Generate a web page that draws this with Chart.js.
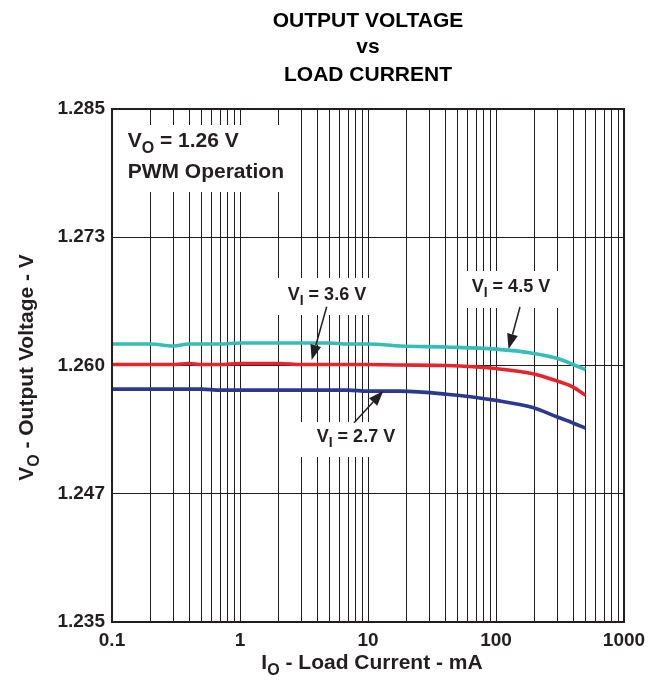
<!DOCTYPE html>
<html>
<head>
<meta charset="utf-8">
<script src="https://cdn.jsdelivr.net/npm/chart.js@4.4.1/dist/chart.umd.min.js"></script>
<style>
html,body{margin:0;padding:0;background:#fff;}
canvas{display:block;}
</style>
</head>
<body>
<canvas id="c" width="667" height="683"></canvas>
<script>
// ---- data ----
const currentMA = [0.1, 0.2, 0.3, 0.4, 0.5, 0.7, 1, 2, 3, 5, 7, 10, 17.8, 41, 100, 194, 298, 400, 500];
const vi45 = [1.2621, 1.2621, 1.2619, 1.2621, 1.2621, 1.2621, 1.2622, 1.2622, 1.2622, 1.2622, 1.2621, 1.2621, 1.2619, 1.2618, 1.2616, 1.2612, 1.2607, 1.2601, 1.2596];
const vi36 = [1.2601, 1.2601, 1.2601, 1.2602, 1.2601, 1.2601, 1.2602, 1.2602, 1.2601, 1.2601, 1.2601, 1.2601, 1.26005, 1.2600, 1.2597, 1.2592, 1.2585, 1.2579, 1.2571];
const vi27 = [1.2577, 1.2577, 1.2577, 1.2577, 1.2577, 1.2576, 1.2576, 1.2576, 1.2576, 1.2576, 1.2576, 1.2575, 1.2575, 1.2572, 1.2566, 1.2559, 1.2550, 1.2544, 1.2539];

const xTickValues = [0.1,0.2,0.3,0.4,0.5,0.6,0.7,0.8,0.9,1,2,3,4,5,6,7,8,9,10,20,30,40,50,60,70,80,90,100,200,300,400,500,600,700,800,900,1000];
const xMajorValues = [0.1, 1, 10, 100, 1000];
const xMajorLabels = ['0.1', '1', '10', '100', '1000'];
const yTickValues = [1.235, 1.2475, 1.26, 1.2725, 1.285];
const yTickLabels = ['1.235', '1.247', '1.260', '1.273', '1.285'];

const FONT = '"Liberation Sans", Arial, Helvetica, sans-serif';

// annotation placement (in data units)
const notes = [
  { box:[0.1, 2.45, 1.28344, 1.27691], size:21,
    lines:[ {x:0.1325, y:1.2813, parts:[['V',0],['O',1],[' = 1.26 V',0]]},
            {x:0.1325, y:1.27827, parts:[['PWM Operation',0]]} ] },
  { box:[1.778, 17.15, 1.26853, 1.26492], size:18,
    lines:[ {x:2.359, y:1.26638, parts:[['V',0],['I',1],[' = 3.6 V',0]]} ],
    arrow:[4.757, 1.26573, 3.632, 1.26054] },
  { box:[54.2, 352, 1.26921, 1.2656], size:18,
    lines:[ {x:64.6, y:1.26719, parts:[['V',0],['I',1],[' = 4.5 V',0]]} ],
    arrow:[154, 1.2657, 125.3, 1.26161] },
  { box:[2.84, 19.1, 1.25449, 1.25108], size:18,
    lines:[ {x:3.975, y:1.25257, parts:[['V',0],['I',1],[' = 2.7 V',0]]} ],
    arrow:[7.78, 1.25442, 13.17, 1.25751] }
];

function drawRich(ctx, parts, x, y, size, measureOnly) {
  let cx = x;
  const sub = Math.round(size * 0.78);
  for (const [t, isSub] of parts) {
    ctx.font = 'bold ' + (isSub ? sub : size) + 'px ' + FONT;
    if (!measureOnly) ctx.fillText(t, cx, y + (isSub ? Math.round(size * 0.28) : 0));
    cx += ctx.measureText(t).width;
  }
  return cx - x;
}

const notesPlugin = {
  id: 'notes',
  beforeDatasetsDraw(chart) {
    const ctx = chart.ctx, xs = chart.scales.x, ys = chart.scales.y;
    ctx.save();
    for (const n of notes) {
      const x0 = xs.getPixelForValue(n.box[0]), x1 = xs.getPixelForValue(n.box[1]);
      const y0 = ys.getPixelForValue(n.box[2]), y1 = ys.getPixelForValue(n.box[3]);
      ctx.fillStyle = '#fff';
      ctx.fillRect(x0, y0, x1 - x0, y1 - y0);
      ctx.fillStyle = '#231f20';
      ctx.textBaseline = 'alphabetic';
      ctx.textAlign = 'left';
      for (const l of n.lines) {
        drawRich(ctx, l.parts, xs.getPixelForValue(l.x), ys.getPixelForValue(l.y), n.size);
      }
    }
    ctx.restore();
  },
  afterDatasetsDraw(chart) {
    const ctx = chart.ctx, xs = chart.scales.x, ys = chart.scales.y;
    ctx.save();
    ctx.strokeStyle = '#231f20';
    ctx.fillStyle = '#231f20';
    for (const n of notes) {
      if (!n.arrow) continue;
      const ax = xs.getPixelForValue(n.arrow[0]), ay = ys.getPixelForValue(n.arrow[1]);
      const bx = xs.getPixelForValue(n.arrow[2]), by = ys.getPixelForValue(n.arrow[3]);
      const ang = Math.atan2(by - ay, bx - ax);
      const hl = 15, hw = 5.5;
      const hx = bx - hl * Math.cos(ang), hy = by - hl * Math.sin(ang);
      ctx.lineWidth = 1.5;
      ctx.beginPath(); ctx.moveTo(ax, ay); ctx.lineTo(hx, hy); ctx.stroke();
      ctx.beginPath();
      ctx.moveTo(bx, by);
      ctx.lineTo(hx + hw * Math.sin(ang), hy - hw * Math.cos(ang));
      ctx.lineTo(hx - hw * Math.sin(ang), hy + hw * Math.cos(ang));
      ctx.closePath(); ctx.fill();
    }
    ctx.restore();
  },
  afterDraw(chart) {
    const ctx = chart.ctx, a = chart.chartArea;
    ctx.save();
    // frame
    ctx.strokeStyle = '#231f20';
    ctx.lineWidth = 2;
    ctx.strokeRect(a.left, a.top, a.right - a.left, a.bottom - a.top);
    // chart title
    ctx.fillStyle = '#000';
    ctx.textAlign = 'center';
    ctx.textBaseline = 'alphabetic';
    ctx.font = 'bold 21px ' + FONT;
    const cx = (a.left + a.right) / 2;
    ctx.fillText('OUTPUT VOLTAGE', cx, 27);
    ctx.fillText('vs', cx, 53);
    ctx.fillText('LOAD CURRENT', cx, 81);
    // axis titles
    ctx.fillStyle = '#231f20';
    ctx.textAlign = 'left';
    const xParts = [['I',0],['O',1],[' - Load Current - mA',0]];
    const wx = drawRich(ctx, xParts, 0, 0, 21, true);
    drawRich(ctx, xParts, cx + 4 - wx / 2, 669, 21);
    const yParts = [['V',0],['O',1],[' - Output Voltage - V',0]];
    const wy = drawRich(ctx, yParts, 0, 0, 21, true);
    ctx.translate(33, (a.top + a.bottom) / 2 + 2);
    ctx.rotate(-Math.PI / 2);
    drawRich(ctx, yParts, -wy / 2, 0, 21);
    ctx.restore();
  }
};

const mk = (arr) => currentMA.map((x, i) => ({ x: x, y: arr[i] }));

new Chart(document.getElementById('c'), {
  type: 'line',
  data: {
    datasets: [
      { label: 'VI = 4.5 V', data: mk(vi45), borderColor: '#35bdb8', borderWidth: 3.6 },
      { label: 'VI = 3.6 V', data: mk(vi36), borderColor: '#e8232a', borderWidth: 3.6 },
      { label: 'VI = 2.7 V', data: mk(vi27), borderColor: '#2b3990', borderWidth: 3.6 }
    ]
  },
  options: {
    responsive: false,
    animation: false,
    devicePixelRatio: 1,
    layout: { padding: { top: 109, right: 43, bottom: 0, left: 0 } },
    elements: {
      point: { radius: 0 },
      line: { cubicInterpolationMode: 'monotone', fill: false }
    },
    plugins: { legend: { display: false }, tooltip: { enabled: false }, title: { display: false } },
    scales: {
      x: {
        type: 'logarithmic',
        min: 0.1, max: 1000,
        afterBuildTicks: (s) => { s.ticks = xTickValues.map(v => ({ value: v })); },
        afterFit: (s) => { s.height = 61; },
        grid: { color: '#1e1e1e', lineWidth: 1, drawTicks: false },
        border: { display: false },
        ticks: {
          autoSkip: false, maxRotation: 0, padding: 7, color: '#231f20',
          font: { family: FONT, size: 19, weight: 'bold' },
          callback: (v) => {
            const i = xMajorValues.findIndex(m => Math.abs(m - v) / m < 1e-6);
            return i >= 0 ? xMajorLabels[i] : '';
          }
        }
      },
      y: {
        type: 'linear',
        min: 1.235, max: 1.285,
        afterBuildTicks: (s) => { s.ticks = yTickValues.map(v => ({ value: v })); },
        afterFit: (s) => { s.width = 112; },
        grid: { color: '#1e1e1e', lineWidth: 1, drawTicks: false },
        border: { display: false },
        ticks: {
          padding: 7, color: '#231f20',
          font: { family: FONT, size: 19, weight: 'bold' },
          callback: (v) => {
            const i = yTickValues.findIndex(m => Math.abs(m - v) < 1e-7);
            return i >= 0 ? yTickLabels[i] : '';
          }
        }
      }
    }
  },
  plugins: [notesPlugin]
});
</script>
</body>
</html>
